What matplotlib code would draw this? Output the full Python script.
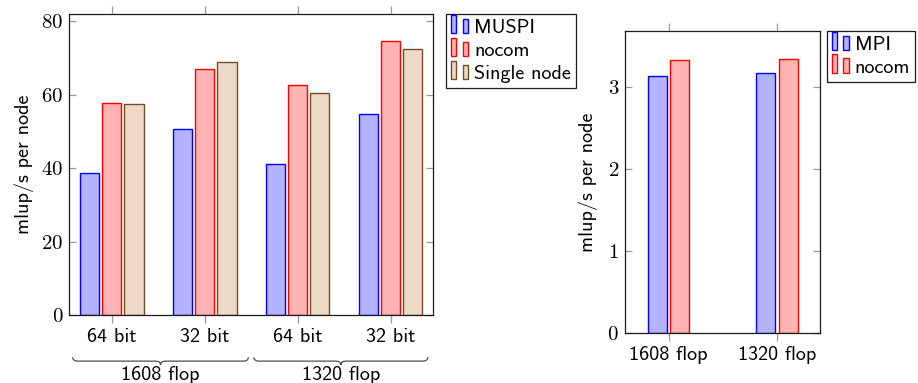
import numpy as np
import matplotlib
matplotlib.use("Agg")
import matplotlib.pyplot as plt
from matplotlib.patches import Rectangle, PathPatch
from matplotlib.path import Path
from matplotlib.legend_handler import HandlerBase
import matplotlib.transforms as mtransforms

# data
bit_labels = ["64 bit", "32 bit", "64 bit", "32 bit"]
flop_labels = ["1608 flop", "1320 flop"]
muspi = [38.8, 50.6, 41.1, 54.7]
nocom_left = [57.7, 67.0, 62.6, 74.6]
single_node = [57.6, 68.9, 60.6, 72.4]
mpi = [3.14, 3.17]
nocom_right = [3.33, 3.35]

plt.rcParams["font.family"] = ["cmss10", "DejaVu Sans"]
plt.rcParams["axes.formatter.use_mathtext"] = True
fs = 14.5

blue_fc, blue_ec = "#B3B3FF", "#0000FF"
red_fc, red_ec = "#FFB3B3", "#FF0000"
brown_fc, brown_ec = "#EDD9C6", "#734D26"


class BarPairHandler(HandlerBase):
    # pgfplots style ybar legend: two little bars
    def create_artists(self, legend, orig_handle, xdescent, ydescent,
                       width, height, fontsize, trans):
        fc = orig_handle.get_facecolor()
        ec = orig_handle.get_edgecolor()
        w = width * 0.32
        r1 = Rectangle((-xdescent, -ydescent), w, height * 1.3,
                       facecolor=fc, edgecolor=ec, lw=1.0, transform=trans)
        r2 = Rectangle((-xdescent + width - w, -ydescent), w, height,
                       facecolor=fc, edgecolor=ec, lw=1.0, transform=trans)
        return [r1, r2]


def style_axes(ax):
    for s in ax.spines.values():
        s.set_color("0.1")
        s.set_linewidth(0.9)
    ax.tick_params(axis="x", direction="out", top=True, bottom=True,
                   length=5.5, width=0.9, color="0.6", labelsize=fs, pad=4)
    ax.tick_params(axis="y", direction="in", left=True, right=True,
                   length=5, width=0.9, color="0.6", labelsize=fs + 0.5, pad=4.5,
                   labelfontfamily="cmr10")


def brace(ax, xa, xb, y0, y1, y2, r):
    trans = mtransforms.blended_transform_factory(ax.transData, ax.transAxes)
    xm = (xa + xb) / 2
    verts = [(xa, y0), (xa, y1), (xa + r, y1),
             (xm - r, y1), (xm, y1), (xm, y2),
             (xm, y1), (xm + r, y1),
             (xb - r, y1), (xb, y1), (xb, y0)]
    codes = [Path.MOVETO, Path.CURVE3, Path.CURVE3,
             Path.LINETO, Path.CURVE3, Path.CURVE3,
             Path.CURVE3, Path.CURVE3,
             Path.LINETO, Path.CURVE3, Path.CURVE3]
    p = PathPatch(Path(verts, codes), transform=trans, fill=False,
                  edgecolor="0.3", lw=0.9, clip_on=False)
    ax.add_patch(p)


fig = plt.figure(figsize=(9.18, 3.83), dpi=100)

# left chart
ax1 = fig.add_axes([0.0757, 0.1775, 0.3956, 0.7867])
x = np.arange(len(bit_labels))
bw = 0.205
b1 = ax1.bar(x - 0.24, muspi, bw, facecolor=blue_fc, edgecolor=blue_ec, lw=1.0, label="MUSPI")
b2 = ax1.bar(x, nocom_left, bw, facecolor=red_fc, edgecolor=red_ec, lw=1.0, label="nocom")
b3 = ax1.bar(x + 0.24, single_node, bw, facecolor=brown_fc, edgecolor=brown_ec, lw=1.0, label="Single node")
ax1.set_xlim(-0.454, 3.452)
ax1.set_ylim(0, 82.07)
ax1.set_xticks(x, bit_labels)
ax1.set_yticks([0, 20, 40, 60, 80])
ax1.set_ylabel("mlup/s per node", fontsize=fs, labelpad=5)
style_axes(ax1)

braces = [(-0.42, 1.47), (1.53, 3.40)]
for (xa, xb), lab in zip(braces, flop_labels):
    brace(ax1, xa, xb, -0.140, -0.153, -0.166, 0.055)
    ax1.text((xa + xb) / 2, -0.198, lab,
             transform=mtransforms.blended_transform_factory(ax1.transData, ax1.transAxes),
             ha="center", va="center", fontsize=fs)

leg1 = fig.legend(handles=[b1.patches[0], b2.patches[0], b3.patches[0]],
                  labels=["MUSPI", "nocom", "Single node"],
                  handler_map={Rectangle: BarPairHandler()},
                  loc="upper left", bbox_to_anchor=(0.4858, 0.9634), borderaxespad=0,
                  fontsize=fs, frameon=True, fancybox=False, framealpha=1,
                  edgecolor="0.1", handlelength=0.85, handletextpad=0.3,
                  borderpad=0.25, labelspacing=0.25)
leg1.get_frame().set_linewidth(0.9)

# right chart
ax2 = fig.add_axes([0.6812, 0.1313, 0.2124, 0.787])
x2 = np.arange(len(flop_labels))
bw2 = 0.175
c1 = ax2.bar(x2 - 0.104, mpi, bw2, facecolor=blue_fc, edgecolor=blue_ec, lw=1.0, label="MPI")
c2 = ax2.bar(x2 + 0.104, nocom_right, bw2, facecolor=red_fc, edgecolor=red_ec, lw=1.0, label="nocom")
ax2.set_xlim(-0.40, 1.40)
ax2.set_ylim(0, 3.685)
ax2.set_xticks(x2, flop_labels)
ax2.set_yticks([0, 1, 2, 3])
ax2.set_ylabel("mlup/s per node", fontsize=fs, labelpad=7)
style_axes(ax2)

leg2 = fig.legend(handles=[c1.patches[0], c2.patches[0]], labels=["MPI", "nocom"],
                  handler_map={Rectangle: BarPairHandler()},
                  loc="upper left", bbox_to_anchor=(0.9005, 0.9183), borderaxespad=0,
                  fontsize=fs, frameon=True, fancybox=False, framealpha=1,
                  edgecolor="0.1", handlelength=0.85, handletextpad=0.3,
                  borderpad=0.25, labelspacing=0.2)
leg2.get_frame().set_linewidth(0.9)

fig.savefig("out.png", dpi=100)
